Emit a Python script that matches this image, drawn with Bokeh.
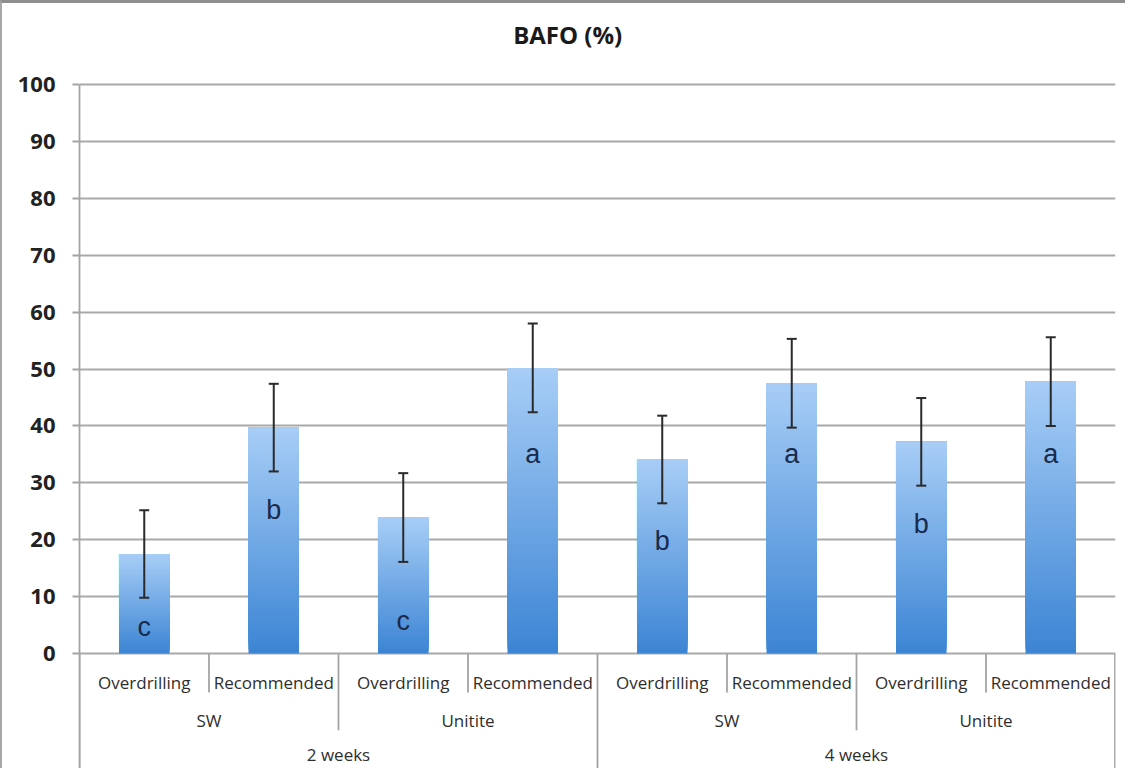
import numpy as np
from bokeh.plotting import figure
from bokeh.models import FactorRange, Range1d, FixedTicker, ColumnDataSource, Whisker, TeeHead
from bokeh.core.properties import value
from bokeh.embed import file_html
from bokeh.resources import INLINE

# ---------------- data ----------------
weeks = ["2 weeks", "2 weeks", "2 weeks", "2 weeks", "4 weeks", "4 weeks", "4 weeks", "4 weeks"]
materials = ["SW", "SW", "Unitite", "Unitite", "SW", "SW", "Unitite", "Unitite"]
drilling = ["Overdrilling", "Recommended", "Overdrilling", "Recommended",
            "Overdrilling", "Recommended", "Overdrilling", "Recommended"]
bafo_mean = [17.5, 39.7, 23.9, 50.2, 34.1, 47.5, 37.2, 47.8]
bafo_err = [7.7, 7.7, 7.8, 7.8, 7.7, 7.8, 7.7, 7.8]
letters = ["c", "b", "c", "a", "b", "a", "b", "a"]
letter_base = [4.6, 25.3, 5.7, 35.0, 19.8, 35.0, 22.7, 35.0]
y_ticks = [0, 10, 20, 30, 40, 50, 60, 70, 80, 90, 100]
title_text = "BAFO (%)"

# ---------------- layout constants ----------------
H = 768
Y_TOP = 114.24
PX_PER_UNIT = 5.69
Y_BOTTOM = Y_TOP - H / PX_PER_UNIT
FONT = "Open Sans"

factors = list(zip(weeks, materials, drilling))
x_range = FactorRange(*factors, factor_padding=0, subgroup_padding=0,
                      group_padding=0, range_padding=0)

p = figure(width=1125, height=H, x_range=x_range, y_range=Range1d(Y_BOTTOM, Y_TOP),
           output_backend="svg", toolbar_location=None, x_axis_location=None,
           min_border_left=77, min_border_right=12, min_border_top=0, min_border_bottom=0)
p.outline_line_color = None
p.background_fill_color = "white"
p.border_fill_color = "white"
p.styles = {"border-left": "2px solid #a8a8a8", "border-top": "3px solid #8e8e8e"}

# grid
p.xgrid.visible = False
p.ygrid.ticker = FixedTicker(ticks=y_ticks)
p.ygrid.grid_line_color = "#a9a9a9"
p.ygrid.grid_line_width = 1.8

# y axis
p.yaxis.ticker = FixedTicker(ticks=y_ticks)
p.yaxis.bounds = (Y_BOTTOM, 100)
p.yaxis.axis_line_color = "#a4a4a4"
p.yaxis.axis_line_width = 1.8
p.yaxis.major_tick_line_color = "#a4a4a4"
p.yaxis.major_tick_line_width = 1.8
p.yaxis.major_tick_out = 7
p.yaxis.major_tick_in = 0
p.yaxis.minor_tick_line_color = None
p.yaxis.major_label_standoff = 17
p.yaxis.major_label_text_font = FONT
p.yaxis.major_label_text_font_style = "bold"
p.yaxis.major_label_text_font_size = "22px"
p.yaxis.major_label_text_color = "#222222"

# gradient bars: overlapping slices, each covering from its start up to the bar top,
# drawn bottom-first so the visible band shifts from dark (bottom) to light (top)
N = 60
top_c = np.array([168, 206, 247])
bot_c = np.array([60, 133, 212])
bx, bb, bt, bc = [], [], [], []
for f, v in zip(factors, bafo_mean):
    for j in range(N):
        t = (j + 0.5) / N
        c = (bot_c + (top_c - bot_c) * t).astype(int)
        bx.append(f)
        bb.append(v * j / N)
        bt.append(v)
        bc.append("#%02x%02x%02x" % tuple(c))
bar_src = ColumnDataSource(dict(x=bx, bottom=bb, top=bt, color=bc))
p.vbar(x="x", bottom="bottom", top="top", width=0.39, source=bar_src,
       fill_color="color", line_color=None)

# error bars
err_src = ColumnDataSource(dict(x=factors,
                                upper=[m + e for m, e in zip(bafo_mean, bafo_err)],
                                lower=[m - e for m, e in zip(bafo_mean, bafo_err)]))
w = Whisker(base="x", upper="upper", lower="lower", source=err_src, dimension="height",
            line_color="#2a2a2a", line_width=2, level="overlay")
w.upper_head = TeeHead(size=10, line_color="#2a2a2a", line_width=2)
w.lower_head = TeeHead(size=10, line_color="#2a2a2a", line_width=2)
p.add_layout(w)

# significance letters
p.text(x=factors, y=letter_base, text=letters, text_font=value("Liberation Sans"),
       text_font_size="27px", text_color="#1a2a4a", text_align="center",
       text_baseline="alphabetic")

# title
p.text(x=[3.77], y=[108.8], text=[title_text], text_font=value(FONT),
       text_font_style="bold", text_font_size="24px", text_color="#1a1a1a",
       text_align="center", text_baseline="middle")

# hierarchical category labels
lvl2 = []
for wk, m in zip(weeks, materials):
    if (wk, m) not in lvl2:
        lvl2.append((wk, m))
lvl3 = []
for wk in weeks:
    if wk not in lvl3:
        lvl3.append(wk)

lab_style = dict(text_font=value(FONT), text_font_size="17px", text_color="#2e2e2e",
                 text_align="center", text_baseline="middle")
p.text(x=factors, y=[-5.1] * len(factors), text=drilling, **lab_style)
p.text(x=lvl2, y=[-11.8] * len(lvl2), text=[m for _, m in lvl2], **lab_style)
p.text(x=lvl3, y=[-17.8] * len(lvl3), text=lvl3, **lab_style)

# divider lines of the category axis
dx, dy = [], []
n = len(factors)
for i in range(n + 1):
    if i == 0 or i == n or weeks[i - 1] != weeks[i]:
        depth = Y_BOTTOM
    elif materials[i - 1] != materials[i]:
        depth = -13.5
    else:
        depth = -6.85
    xpos = i if i < n else n - 0.004
    dx.append(xpos)
    dy.append(depth)
p.segment(x0=dx, y0=[0] * len(dx), x1=dx, y1=dy, line_color="#a4a4a4", line_width=1.8)

open("out.html", "w").write(file_html(p, INLINE))
